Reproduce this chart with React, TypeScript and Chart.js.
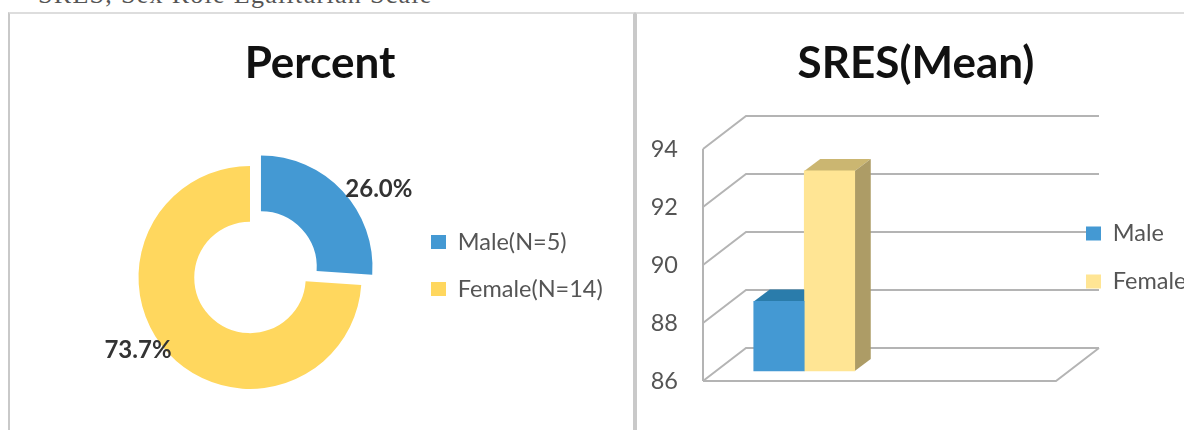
import React, { useEffect, useRef } from "react";
import { Chart, registerables } from "chart.js";

Chart.register(...registerables);

const caption = "SRES, Sex Role Egalitarian Scale";
const pieTitle = "Percent";
const pieLabels = ["Male(N=5)", "Female(N=14)"];
const pieValues = [26.0, 73.7];
const pieColors = ["#4499d3", "#ffd75e"];
const barTitle = "SRES(Mean)";
const barCategories = ["SRES", ""];
const barSeriesNames = ["Male", "Female"];
const maleValues = [88.4, null];
const femaleValues = [92.9, null];
const barColors = ["#4499d3", "#ffe594"];
const barTopColors = ["#2a7cab", "#cbb671"];
const barSideColors = ["#24698f", "#ad9c66"];

const FONT = "Lato, 'Open Sans', sans-serif";
const TEXT = "#555555";
const CANVAS_TOP = 13;
const LEGEND_SIZE = 23.5;

function placeLegend(x: number, yFirstCentre: number, padding: number) {
  return {
    id: "placeLegend",
    afterLayout(chart: any) {
      const l = chart.legend;
      const h = l.height;
      l.left = x - padding;
      l.right = l.left + l.width;
      l.top = yFirstCentre - padding - LEGEND_SIZE / 2;
      l.bottom = l.top + h;
      const t = chart.titleBlock;
      t.left = 0;
      t.right = chart.width;
    },
  };
}

const pieLabelPlugin = {
  id: "pieLabels",
  afterDatasetsDraw(chart: any) {
    const polar = [
      { k: 1.4, d: 8.7 },
      { k: 1.2, d: 9.9 },
    ];
    const ctx = chart.ctx;
    ctx.save();
    ctx.font = `700 24px ${FONT}`;
    ctx.fillStyle = "#333333";
    ctx.textAlign = "center";
    ctx.textBaseline = "middle";
    chart.getDatasetMeta(0).data.forEach((arc: any, i: number) => {
      const p = arc.getProps(["x", "y", "startAngle", "endAngle", "outerRadius"]);
      const mid = (p.startAngle + p.endAngle) / 2 + (polar[i].d * Math.PI) / 180;
      ctx.fillText(
        pieValues[i].toFixed(1) + "%",
        p.x + Math.cos(mid) * p.outerRadius * polar[i].k,
        p.y + Math.sin(mid) * p.outerRadius * polar[i].k
      );
    });
    ctx.restore();
  },
};

const WALL_DX = 43;
const WALL_DY = -33;
const BAR_DX = 13;
const BAR_DY = -10;
const FACE_DX = 16;
const FACE_DY = -12;

const wallsPlugin = {
  id: "walls",
  beforeDraw(chart: any) {
    const { ctx, chartArea: a, scales } = chart;
    const y = scales.y;
    ctx.save();
    ctx.strokeStyle = "#b4b4b4";
    ctx.lineWidth = 2;
    ctx.beginPath();
    ctx.moveTo(a.left, a.top);
    ctx.lineTo(a.left, a.bottom);
    y.ticks.forEach((t: any) => {
      const py = y.getPixelForValue(t.value);
      ctx.moveTo(a.left, py);
      ctx.lineTo(a.left + WALL_DX, py + WALL_DY);
      ctx.lineTo(a.right + WALL_DX, py + WALL_DY);
    });
    ctx.moveTo(a.left, a.bottom);
    ctx.lineTo(a.right, a.bottom);
    ctx.lineTo(a.right + WALL_DX, a.bottom + WALL_DY);
    ctx.stroke();
    ctx.restore();
  },
};

const bars3dPlugin = {
  id: "bars3d",
  beforeDatasetDraw(chart: any, args: any) {
    const ctx = chart.ctx;
    ctx.save();
    ctx.translate(BAR_DX, BAR_DY);
    const values = chart.data.datasets[args.index].data;
    const last = args.index === chart.data.datasets.length - 1;
    args.meta.data.forEach((bar: any, i: number) => {
      if (values[i] == null) return;
      const p = bar.getProps(["x", "y", "base", "width"]);
      const l = p.x - p.width / 2;
      const r = p.x + p.width / 2;
      ctx.fillStyle = barTopColors[args.index];
      ctx.beginPath();
      ctx.moveTo(l, p.y);
      ctx.lineTo(l + FACE_DX, p.y + FACE_DY);
      ctx.lineTo(last ? r + FACE_DX : r, p.y + FACE_DY);
      ctx.lineTo(r, p.y);
      ctx.closePath();
      ctx.fill();
      if (last) {
        ctx.fillStyle = barSideColors[args.index];
        ctx.beginPath();
        ctx.moveTo(r, p.y);
        ctx.lineTo(r + FACE_DX, p.y + FACE_DY);
        ctx.lineTo(r + FACE_DX, p.base + FACE_DY);
        ctx.lineTo(r, p.base);
        ctx.closePath();
        ctx.fill();
      }
    });
  },
  afterDatasetDraw(chart: any) {
    chart.ctx.restore();
  },
};

function titleOptions(text: string, bottom: number) {
  return {
    display: true,
    text,
    color: "#111111",
    font: { family: FONT, size: 44, weight: "bold" as const },
    padding: { top: 24, bottom },
  };
}

function legendOptions(padding: number) {
  return {
    display: true,
    position: "chartArea" as const,
    align: "start" as const,
    labels: {
      boxWidth: 15,
      boxHeight: 14,
      padding,
      color: TEXT,
      font: { family: FONT, size: LEGEND_SIZE },
    },
  };
}

export default function App() {
  const pieRef = useRef<HTMLCanvasElement>(null);
  const barRef = useRef<HTMLCanvasElement>(null);

  useEffect(() => {
    const pie = new Chart(pieRef.current!, {
      type: "doughnut",
      data: {
        labels: pieLabels,
        datasets: [
          {
            data: pieValues,
            backgroundColor: pieColors,
            borderWidth: 0,
            offset: [60, 0],
            clip: false,
          } as any,
        ],
      },
      options: {
        animation: false,
        responsive: false,
        radius: 111.5,
        cutout: "50%",
        layout: { padding: { left: 0, right: 140, bottom: 30 } },
        plugins: {
          title: titleOptions(pieTitle, 65),
          legend: legendOptions(23.5),
          tooltip: { enabled: false },
        },
      } as any,
      plugins: [placeLegend(431 - 8, 242 - CANVAS_TOP, 23.5), pieLabelPlugin],
    });

    const bar = new Chart(barRef.current!, {
      type: "bar",
      data: {
        labels: barCategories,
        datasets: [
          { label: barSeriesNames[0], data: maleValues, base: 86, backgroundColor: barColors[0], barThickness: 50.5, clip: false },
          { label: barSeriesNames[1], data: femaleValues, base: 86, backgroundColor: barColors[1], barThickness: 50.5, clip: false },
        ] as any,
      },
      options: {
        animation: false,
        responsive: false,
        layout: { padding: { right: 140, bottom: 49 } },
        scales: {
          x: { display: false },
          y: {
            min: 86,
            max: 94,
            afterFit(scale: any) {
              scale.width = 67;
            },
            ticks: {
              stepSize: 2,
              padding: 17,
              color: TEXT,
              font: { family: FONT, size: 23.5 },
            },
            grid: { display: false },
            border: { display: false },
          },
        },
        plugins: {
          title: titleOptions(barTitle, 59.2),
          legend: legendOptions(24.5),
          tooltip: { enabled: false },
        },
      } as any,
      plugins: [placeLegend(1086 - 636, 233.5 - CANVAS_TOP, 24.5), wallsPlugin, bars3dPlugin],
    });

    return () => {
      pie.destroy();
      bar.destroy();
    };
  }, []);

  const line = "#c9c9c9";
  return (
    <div
      style={{
        position: "fixed",
        left: 0,
        top: 0,
        width: 1184,
        height: 430,
        overflow: "hidden",
        background: "#fff",
        filter: "blur(0.5px)",
      }}
    >
      <div
        style={{
          position: "absolute",
          left: 38,
          top: -20,
          font: "26px 'Liberation Serif', serif",
          letterSpacing: "1.3px",
          color: "#555",
          whiteSpace: "nowrap",
        }}
      >
        {caption}
      </div>
      <div style={{ position: "absolute", left: 8, top: 12, width: 623, height: 430, borderTop: "2px solid #dddddd", borderLeft: `2px solid ${line}`, borderRight: `2px solid ${line}` }} />
      <div style={{ position: "absolute", left: 635, top: 12, width: 560, height: 430, borderTop: "2px solid #dddddd", borderLeft: `2px solid ${line}` }} />
      <canvas ref={pieRef} width={624} height={417} style={{ position: "absolute", left: 8, top: CANVAS_TOP, width: 624, height: 417 }} />
      <canvas ref={barRef} width={560} height={417} style={{ position: "absolute", left: 636, top: CANVAS_TOP, width: 560, height: 417 }} />
    </div>
  );
}
